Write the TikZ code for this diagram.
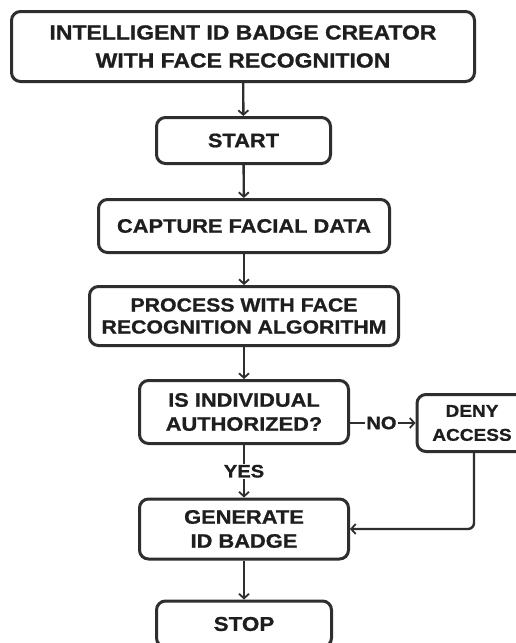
\documentclass[tikz,border=0pt]{standalone}
\usepackage{fontspec}
\newfontfamily\chartfont[FakeStretch=1.12, FakeBold=0.9]{Liberation Sans}
\usepackage{tikz}
\usetikzlibrary{arrows.meta}
\definecolor{inkD}{HTML}{1E1E1E}
\definecolor{lineD}{HTML}{2E2E2E}

\begin{document}
\begin{tikzpicture}[
  x=1pt, y=-1pt,
  bx/.style={rectangle, rounded corners=9pt, draw=lineD, line width=3pt, fill=white, align=center, inner sep=0pt, text=inkD, font=\chartfont\bfseries\fontsize{19.5}{24}\selectfont},
  ar/.style={draw=lineD, line width=2.4pt, -{Straight Barb[length=4.5pt,width=10pt,line width=1.8pt]}},
  lb/.style={fill=white, inner sep=1pt, text=inkD, font=\chartfont\bfseries\fontsize{18}{20}\selectfont}
]
\path[use as bounding box, clip] (0,0) rectangle (516,643);
\fill[white] (0,0) rectangle (516,643);
% main column
\node[bx, minimum width=463pt, minimum height=70pt, font=\chartfont\bfseries\fontsize{20.5}{28}\selectfont] (title) at (243,46.5) {INTELLIGENT ID BADGE CREATOR\\WITH FACE RECOGNITION};
\node[bx, minimum width=174pt, minimum height=46pt] (start) at (243.5,140.5) {START};
\node[bx, minimum width=291pt, minimum height=53pt] (capture) at (244,226) {CAPTURE FACIAL DATA};
\node[bx, minimum width=309pt, minimum height=59pt, font=\chartfont\bfseries\fontsize{19}{22}\selectfont] (process) at (244,316) {PROCESS WITH FACE\\RECOGNITION ALGORITHM};
\node[bx, minimum width=209pt, minimum height=63pt] (decide) at (244,412) {IS INDIVIDUAL\\AUTHORIZED?};
\node[bx, minimum width=209pt, minimum height=60pt] (generate) at (244,529) {GENERATE\\ID BADGE};
\node[bx, minimum width=175pt, minimum height=46pt, font=\chartfont\bfseries\fontsize{20}{24}\selectfont] (stop) at (244,624) {STOP};
% side branch
\node[bx, minimum width=110pt, minimum height=57pt, font=\chartfont\bfseries\fontsize{17}{24}\selectfont] (deny) at (472,423) {DENY\\ACCESS};
% arrows
\draw[ar] (title) -- (start);
\draw[ar] (start) -- (capture);
\draw[ar] (capture) -- (process);
\draw[ar] (process) -- (decide);
\draw[ar] (decide) -- node[lb] {YES} (generate);
\draw[ar] (generate) -- (stop);
\draw[ar] (decide.east |- deny) -- node[lb, pos=0.48] {NO} (deny.west);
\draw[ar, rounded corners=6pt] (deny.south -| 474,0) |- (generate.east);
\end{tikzpicture}
\end{document}
